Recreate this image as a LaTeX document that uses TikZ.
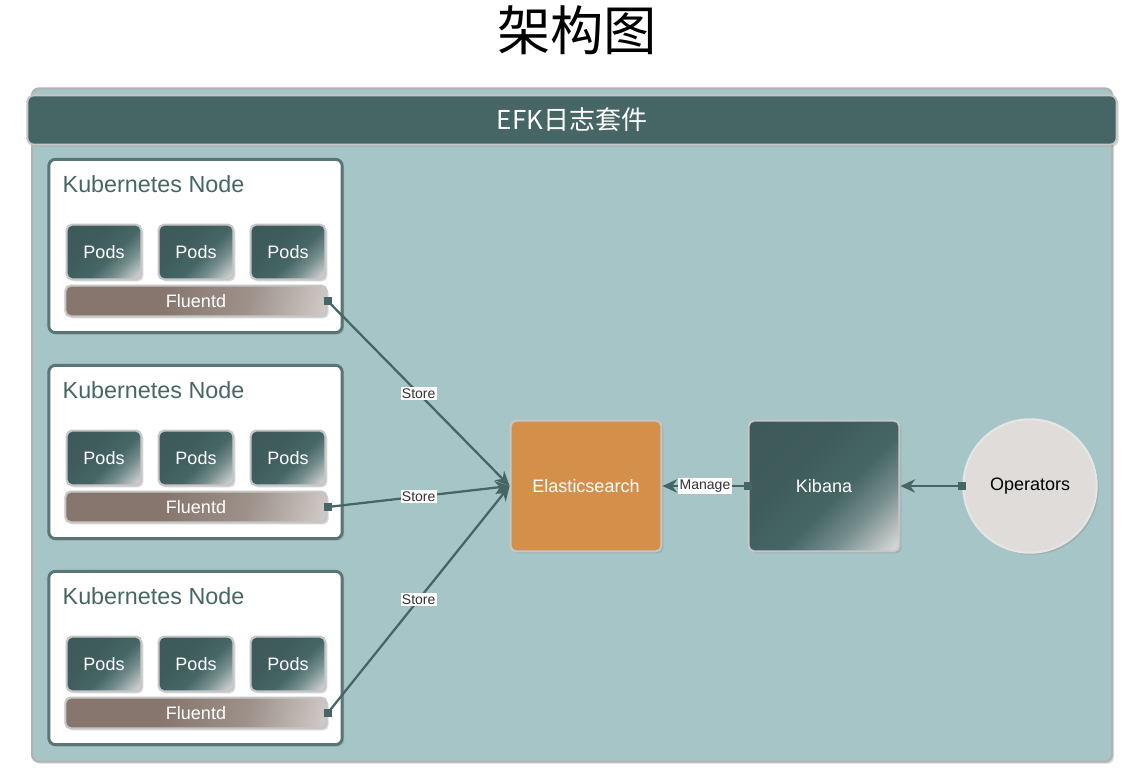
\documentclass[tikz,border=0pt]{standalone}
\usepackage{fontspec}
\setmainfont{Liberation Sans}
\newfontfamily\cjk{Noto Sans CJK SC}
\usetikzlibrary{arrows.meta,shadows}
\definecolor{tealdark}{HTML}{466666}
\definecolor{teallight}{HTML}{A6C5C7}
\definecolor{esorange}{HTML}{D4904A}
\definecolor{fluentbrown}{HTML}{86766D}
\definecolor{opgray}{HTML}{E0DCDA}
\pgfdeclarehorizontalshading{podshade}{100bp}{color(0bp)=(tealdark!85!black); color(38bp)=(tealdark!90!black); color(56bp)=(tealdark); color(68bp)=(tealdark!75!white); color(84bp)=(gray!30!white); color(100bp)=(gray!30!white)}
\pgfdeclarehorizontalshading{fluentshade}{100bp}{color(0bp)=(fluentbrown); color(42bp)=(fluentbrown); color(62bp)=(fluentbrown!80!white); color(84bp)=(fluentbrown!30!white); color(100bp)=(fluentbrown!30!white)}
\tikzset{
  soft/.style={drop shadow={opacity=0.3, shadow xshift=1.5pt, shadow yshift=-1.5pt}},
  box/.style={soft, rounded corners=4pt, draw=gray!45, line width=1.6pt, text=white, font=\fontsize{13.5}{16}\selectfont},
  pod/.style={box, minimum width=56pt, minimum height=41pt, shade, shading=podshade, shading angle=-45},
  fluent/.style={box, minimum width=196pt, minimum height=23pt, shade, shading=fluentshade, shading angle=-15},
  knode/.style={soft, rounded corners=5pt, draw=tealdark!90, line width=2.2pt, fill=white, minimum width=220pt, minimum height=130pt},
  tip/.style={fill=tealdark, inner sep=0pt, minimum size=6pt},
  link/.style={draw=tealdark, line width=1.7pt, arrows={-Stealth[length=11pt,width=10pt]}},
  lbl/.style={fill=white, text=black!80, font=\fontsize{10.5}{12}\selectfont, inner sep=1pt}
}
\begin{document}
\begin{tikzpicture}[x=0.75pt,y=-0.75pt]
\useasboundingbox (0,0) rectangle (1144,780);
\node (title) at (577,30) {\cjk\fontsize{40}{46}\selectfont 架构图};
\node[soft, rounded corners=5pt, draw=gray!60, line width=1.5pt, fill=teallight, minimum width=810pt, minimum height=505pt] (panel) at (572,425) {};
\node[soft, rounded corners=5pt, draw=gray!45, line width=1.5pt, fill=tealdark, text=white, minimum width=817pt, minimum height=37pt] (hdr) at (572,120) {\cjk\fontsize{19.5}{22}\selectfont EFK日志套件};
\foreach \i/\t in {1/159,2/365,3/571}{
  \node[knode] (k\i) at (195.5,\t+87) {};
  \node[anchor=west, text=tealdark, font=\fontsize{17.5}{20}\selectfont] (kt\i) at (58,\t+25) {Kubernetes Node};
  \foreach \x [count=\j] in {104,196,288}
    \node[pod] (p\i\j) at (\x,\t+93) {Pods};
  \node[fluent] (f\i) at (196,\t+142) {Fluentd};
  \node[tip] (d\i) at (f\i.east) {};
}
\node[box, minimum width=113pt, minimum height=98pt, fill=esorange] (es) at (586,486) {Elasticsearch};
\node[box, minimum width=113pt, minimum height=98pt, shade, shading=podshade, shading angle=-45] (kib) at (824,486) {Kibana};
\node[soft, circle, draw=gray!20, line width=1.6pt, fill=opgray, minimum size=100pt, font=\fontsize{13.5}{16}\selectfont] (op) at (1030,486) {Operators};
\node[tip] (dk) at (kib.west) {};
\node[tip] (dop) at (op.west) {};
\foreach \i in {1,2,3}
  \draw[link] (d\i.center) -- node[lbl] (s\i) {Store} (es.west);
\draw[link] (dk.center) -- node[lbl] (mg) {Manage} (es.east);
\draw[link] (dop.center) -- (kib.east);
\end{tikzpicture}
\end{document}
